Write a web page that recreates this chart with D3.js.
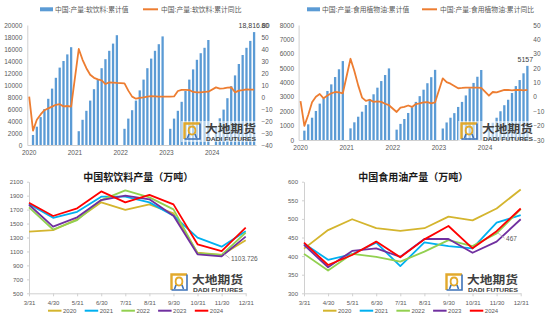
<!DOCTYPE html>
<html>
<head>
<meta charset="utf-8">
<script src="https://cdn.jsdelivr.net/npm/d3@7"></script>
<style>
body { margin: 0; background: #fff; }
svg { display: block; font-family: "Liberation Sans", "Noto Sans CJK SC", sans-serif; }
</style>
</head>
<body>
<svg id="chart" width="550" height="322"></svg>
<script>
"use strict"

// ---- data ----
var years = [2020, 2021, 2022, 2023, 2024];
var months = years.flatMap(function(y) { return d3.range(1, 13).map(function(m) { return y + "-" + m; }); });

// 软饮料 累计值 (万吨), Jan has no value
var softCum = [
	null, 1670, 3050, 4650, 6000, 7700, 9400, 11200, 12900, 14000, 15100, 16300,
	null, 2300, 4200, 5700, 7400, 9300, 10900, 12800, 14300, 15700, 16900, 18300,
	null, 2700, 4400, 5800, 7400, 9100, 10900, 12800, 14400, 15700, 16800, 18100,
	null, 2700, 4400, 5700, 7200, 9000, 10900, 12600, 14200, 15300, 16200, 17500,
	null, 2900, 4450, 5900, 7800, 9800, 11600, 13500, 15000, 16200, 17350, 18816.8
];
// 软饮料 累计同比 (%)
var softYoY = [
	0.3, -28, -19, -14.5, -11, -9.5, -8, -6.5, -6, -7.8, -7.5, -8,
	null, 40, 31, 24, 18.6, 16, 14.7, 13.9, 10.8, 12.2, 12, 11.7,
	null, 11.4, 5.3, 0.3, -1.4, -0.8, -0.3, 0.3, 0.8, 0.6, 0.3, 0.3,
	null, 0.3, 0.5, 5, 6, 6, 5.8, 4.2, 3.9, 3.9, 4.2, 4.4,
	null, 8, 7, 7.2, 7.8, 8, 3.9, 5.3, 5.8, 6.4, 6.1, 6.1
];
// 食用植物油 累计值 (万吨)
var oilCum = [
	null, 650, 1090, 1550, 2020, 2530, 2900, 3410, 3870, 4380, 4920, 5490,
	null, 810, 1230, 1620, 1970, 2430, 2850, 3180, 3640, 4100, 4520, 4980,
	null, 720, 1120, 1460, 1880, 2280, 2650, 3050, 3500, 3950, 4370, 4880,
	null, 800, 1220, 1550, 1870, 2300, 2650, 3100, 3600, 3970, 4400, 4870,
	null, 850, 1200, 1550, 2000, 2420, 2800, 3270, 3750, 4170, 4640, 5157
];
// 食用植物油 累计同比 (%)
var oilYoY = [
	-3, -20.2, -12.6, -3.8, 0.1, 2, -1, 1, 2.5, 3.4, 3.2, 2.5,
	null, 26.5, 18, 8, -0.5, -2.8, -2, -3.5, -3.2, -3.5, -4.8, -5.8,
	null, -10.5, -7.5, -7, -6, -7, -5, -4.5, -3.8, -3.6, -4.5, -3.8,
	null, 12.9, 10.2, 9.2, 7.6, 6, 6.2, 6.5, 6.4, 6.4, 6.4, 6.2,
	null, 0.8, 3.4, 3.2, 4, 4.8, 4.8, 4.5, 4.8, 4.8, 4.5, 4.8
];

var monthEnds = ["3/31", "4/30", "5/31", "6/30", "7/31", "8/31", "9/30", "10/31", "11/30", "12/31"];

var soft2020 = [1385, 1405, 1560, 1805, 1695, 1775, 1645, 1083, 1050, 1262];
var soft2021 = [1780, 1582, 1668, 1885, 1885, 1804, 1613, 1297, 1169, 1388];
var soft2022 = [1732, 1415, 1550, 1837, 1976, 1875, 1703, 1073, 1049, 1369];
var soft2023 = [1770, 1455, 1589, 1837, 1899, 1847, 1613, 1059, 1030, 1312];
var soft2024 = [1799, 1608, 1718, 1961, 1804, 1912, 1775, 1202, 1103.726, 1441];

var oil2020 = [420, 470, 499, 475, 468, 475, 506, 496, 528, 579];
var oil2021 = [434, 390, 405, 436, 373, 437, 427, 421, 490, 510];
var oil2022 = [406, 361, 406, 398, 385, 412, 443, 427, 461, 526];
var oil2023 = [430, 370, 414, 421, 398, 446, 446, 409, 439, 499];
var oil2024 = [436, 376, 403, 439, 397, 445, 481, 421, 467, 528];

var yearColors = ["#D4B52E", "#00B0F0", "#92D050", "#7030A0", "#FF0000"];

// ---- drawing ----
var svg = d3.select("#chart");
var axisGrey = "#595959";
var lineGrey = "#D0D0D0";

function styleAxis(g, size) {
	g.selectAll("text").attr("fill", axisGrey).style("font-size", size + "px");
	g.selectAll("path.domain").attr("stroke", lineGrey);
	g.selectAll(".tick line").attr("stroke", lineGrey);
}

function drawLogo(x, y, backdrop) {
	var g = svg.append("g").attr("transform", "translate(" + x + "," + y + ")");
	if (backdrop) {
		g.append("rect").attr("x", -2).attr("y", -1).attr("width", 76).attr("height", 21)
			.attr("fill", "#fff").attr("fill-opacity", 0.55);
	}
	// icon
	g.append("path").attr("d", "M 1.5 17 V 1.5 H 17")
		.attr("fill", "none").attr("stroke", "#E2A92C").attr("stroke-width", 2.4);
	g.append("path").attr("d", "M 17 1.5 V 17 H 1.5")
		.attr("fill", "none").attr("stroke", "#3D72B8").attr("stroke-width", 1.6);
	g.append("path").attr("d", "M 9 4.5 C 4.5 4.5 4.5 12.5 9 12.5 C 13.5 12.5 13.5 4.5 9 4.5")
		.attr("fill", "none").attr("stroke", "#E2A92C").attr("stroke-width", 1.8);
	g.append("path").attr("d", "M 6 12 L 4.5 16 M 12 12 L 13.5 16")
		.attr("fill", "none").attr("stroke", "#3D72B8").attr("stroke-width", 1.6);
	g.append("text").attr("x", 22).attr("y", 11)
		.attr("textLength", 51).attr("lengthAdjust", "spacingAndGlyphs")
		.style("font-family", "'Noto Sans CJK SC'").style("font-weight", "bold").style("font-size", "11.5px")
		.attr("fill", "#3F3F3F").text("大地期货");
	g.append("text").attr("x", 23).attr("y", 18.5)
		.attr("textLength", 50).attr("lengthAdjust", "spacingAndGlyphs")
		.style("font-weight", "bold").style("font-size", "5px")
		.attr("fill", "#3F3F3F").text("DADI FUTURES");
}

function drawTop(p) {
	var g = svg.append("g");
	var x = d3.scaleBand().domain(months).range([p.x0, p.x1]).paddingInner(0.4).paddingOuter(0.2);
	var yL = d3.scaleLinear().domain([0, p.lMax]).range([p.yB, p.yT]);
	var yR = d3.scaleLinear().domain([p.rMin, p.rMax]).range([p.yB, p.yT]);
	var cx = function(m) { return x(m) + x.bandwidth() / 2; };

	var gl = g.append("g").attr("transform", "translate(" + p.x0 + ",0)")
		.call(d3.axisLeft(yL).tickValues(d3.range(0, p.lMax + 1, p.lStep))
			.tickFormat(d3.format("d")).tickSize(0).tickPadding(p.padL));
	styleAxis(gl, 6.5);
	var gr = g.append("g").attr("transform", "translate(" + p.x1 + ",0)")
		.call(d3.axisRight(yR).tickValues(d3.range(p.rMin, p.rMax + 1, p.rStep))
			.tickFormat(d3.format("d")).tickSize(0).tickPadding(p.padR));
	styleAxis(gr, 6.5);
	gr.select("path.domain").remove();
	var gx = g.append("g").attr("transform", "translate(0," + p.yB + ")")
		.call(d3.axisBottom(x).tickValues(years.map(function(y) { return y + "-1"; }))
			.tickFormat(function(d) { return d.split("-")[0]; }).tickSize(0).tickPadding(5));
	styleAxis(gx, 6.5);

	var bars = months.map(function(m, i) { return { m: m, v: p.cum[i] }; })
		.filter(function(d) { return d.v != null; });
	g.append("g").selectAll("rect").data(bars).enter().append("rect")
		.attr("x", function(d) { return x(d.m); })
		.attr("width", x.bandwidth())
		.attr("y", function(d) { return yL(d.v); })
		.attr("height", function(d) { return yL(0) - yL(d.v); })
		.attr("fill", "#5B9BD5");

	drawLogo(p.logoX, p.logoY, true);

	var pts = months.map(function(m, i) { return { m: m, v: p.yoy[i] }; })
		.filter(function(d) { return d.v != null; });
	g.append("path").datum(pts)
		.attr("d", d3.line().x(function(d) { return cx(d.m); }).y(function(d) { return yR(d.v); }))
		.attr("fill", "none").attr("stroke", "#ED7D31").attr("stroke-width", 1.8)
		.attr("stroke-linejoin", "round");

	var last = bars[bars.length - 1];
	g.append("text").attr("x", cx(last.m) + p.lastDx).attr("y", yL(last.v) - 4)
		.attr("text-anchor", "middle").attr("fill", "#404040").style("font-size", "7px")
		.text(p.lastFmt(last.v));

	// legend
	g.append("rect").attr("x", p.legX).attr("y", 7.3).attr("width", 13).attr("height", 4).attr("fill", "#5B9BD5");
	g.append("text").attr("x", p.legX + 15).attr("y", 11.6).attr("fill", axisGrey)
		.style("font-size", "6.8px").text(p.legBar);
	g.append("line").attr("x1", p.legX2).attr("x2", p.legX2 + 15).attr("y1", 9.3).attr("y2", 9.3)
		.attr("stroke", "#ED7D31").attr("stroke-width", 2);
	g.append("text").attr("x", p.legX2 + 18).attr("y", 11.6).attr("fill", axisGrey)
		.style("font-size", "6.8px").text(p.legLine);
}

function drawBottom(p) {
	var g = svg.append("g");
	var x = d3.scalePoint().domain(monthEnds).range([p.x0, p.x1]);
	var y = d3.scaleLinear().domain([p.yMin, p.yMax]).range([293.3, 181.7]);

	g.append("text").attr("x", (p.x0 + p.x1) / 2 + 1).attr("y", 180.5).attr("text-anchor", "middle")
		.style("font-family", "'Noto Sans CJK SC'").style("font-weight", "bold").style("font-size", "10px")
		.attr("fill", "#1a1a1a").text(p.title);

	var gy = g.append("g").attr("transform", "translate(" + p.x0 + ",0)")
		.call(d3.axisLeft(y).tickValues(d3.range(p.yMin, p.yMax + 1, p.yStep))
			.tickFormat(d3.format("d")).tickSize(2).tickSizeOuter(0).tickPadding(4));
	styleAxis(gy, 6);
	var gx = g.append("g").attr("transform", "translate(0,293.3)")
		.call(d3.axisBottom(x).tickSize(3).tickSizeOuter(0).tickPadding(4));
	styleAxis(gx, 6);

	drawLogo(p.logoX, 273, false);

	var line = d3.line().x(function(d, i) { return x(monthEnds[i]); }).y(function(d) { return y(d); });
	p.series.forEach(function(s, k) {
		g.append("path").datum(s)
			.attr("d", line).attr("fill", "none").attr("stroke", yearColors[k])
			.attr("stroke-width", 1.8).attr("stroke-linejoin", "round");
	});

	// label on the 2024 11/30 point
	var s24 = p.series[4];
	var px = x("11/30"), py = y(s24[8]);
	g.append("line").attr("x1", px + 1).attr("y1", py + 1.5).attr("x2", px + 8).attr("y2", py + 7)
		.attr("stroke", "#A6A6A6").attr("stroke-width", 0.7);
	g.append("text").attr("x", px + 9.5).attr("y", py + 10).attr("fill", axisGrey)
		.style("font-size", "6.5px").text(s24[8]);

	// legend
	years.forEach(function(yr, k) {
		var lx = p.legX + k * 36.7;
		g.append("line").attr("x1", lx).attr("x2", lx + 13.5).attr("y1", 310.7).attr("y2", 310.7)
			.attr("stroke", yearColors[k]).attr("stroke-width", 2);
		g.append("text").attr("x", lx + 15).attr("y", 312.9).attr("fill", axisGrey)
			.style("font-size", "6px").text(yr);
	});
}

drawTop({
	cum: softCum, yoy: softYoY,
	x0: 27.3, x1: 256, yT: 25, yB: 145,
	lMax: 20000, lStep: 2000, rMin: -40, rMax: 60, rStep: 10,
	padL: 5, padR: 5.5,
	logoX: 183, logoY: 122,
	lastDx: 0, lastFmt: d3.format(",.2f"),
	legX: 40, legBar: "中国:产量:软饮料:累计值",
	legX2: 143, legLine: "中国:产量:软饮料:累计同比"
});

drawTop({
	cum: oilCum, yoy: oilYoY,
	x0: 298.6, x1: 529.3, yT: 25, yB: 140,
	lMax: 8000, lStep: 1000, rMin: -30, rMax: 50, rStep: 10,
	padL: 4.5, padR: 4,
	logoX: 460, logoY: 122,
	lastDx: -2, lastFmt: d3.format("d"),
	legX: 307, legBar: "中国:产量:食用植物油:累计值",
	legX2: 422, legLine: "中国:产量:食用植物油:累计同比"
});

drawBottom({
	series: [soft2020, soft2021, soft2022, soft2023, soft2024],
	x0: 29, x1: 245.7, yMin: 500, yMax: 2100, yStep: 200,
	title: "中国软饮料产量（万吨）", logoX: 170, legX: 48
});

drawBottom({
	series: [oil2020, oil2021, oil2022, oil2023, oil2024],
	x0: 304, x1: 520.7, yMin: 300, yMax: 600, yStep: 50,
	title: "中国食用油产量（万吨）", logoX: 445, legX: 323
});
</script>
</body>
</html>
